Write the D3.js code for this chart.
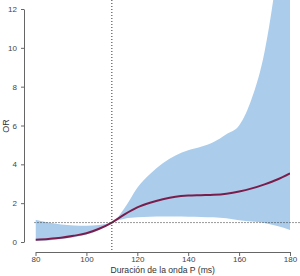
<!DOCTYPE html>
<html><head><meta charset="utf-8">
<script src="https://cdn.jsdelivr.net/npm/d3@7"></script>
<style>body{margin:0;background:#fff}svg{display:block}</style>
</head><body>
<svg id="c" width="300" height="276"></svg>
<script>
const durations = [80,85,90,95,100,105,110,115,120,125,130,135,140,145,150,155,160,165,170,175,180];
const orValues  = [0.12,0.16,0.22,0.32,0.45,0.68,1.0,1.42,1.78,2.02,2.2,2.33,2.39,2.41,2.43,2.49,2.6,2.76,2.97,3.22,3.54];
const upperCI   = [1.15,1.0,0.9,0.85,0.84,0.88,1.0,1.75,2.8,3.5,4.05,4.45,4.72,4.9,5.15,5.55,6.0,7.4,9.8,14,20];
const lowerCI   = [0.05,0.08,0.15,0.25,0.38,0.62,1.0,1.2,1.27,1.3,1.31,1.31,1.3,1.29,1.27,1.22,1.12,1.05,0.98,0.82,0.62];
const xTicks = [80,100,120,140,160,180];
const yTicks = [0,2,4,6,8,10,12];
const refX = 110, refY = 1;

const svg = d3.select("#c");
const x = d3.scaleLinear().domain([80,180]).range([35.5,290]);
const y = d3.scaleLinear().domain([0,12]).range([242,9]);
const font = "'Liberation Sans', Arial, sans-serif";

svg.append("defs").append("clipPath").attr("id","clip")
  .append("rect").attr("x",x(80)).attr("y",0).attr("width",x(180)-x(80)).attr("height",252);

const data = durations.map((d,i)=>({d, m:orValues[i], lo:lowerCI[i], hi:upperCI[i]}));
const area = d3.area().x(p=>x(p.d)).y0(p=>y(p.lo)).y1(p=>y(p.hi)).curve(d3.curveMonotoneX);
const line = d3.line().x(p=>x(p.d)).y(p=>y(p.m)).curve(d3.curveMonotoneX);

const g = svg.append("g").attr("clip-path","url(#clip)");
g.append("path").datum(data).attr("d",area).attr("fill","#abcdeb");

// reference lines
svg.append("line").attr("x1",x(80)-1).attr("x2",300).attr("y1",y(refY)).attr("y2",y(refY))
  .attr("stroke","#333").attr("stroke-width",1).attr("stroke-dasharray","1,2");
svg.append("line").attr("x1",x(refX)).attr("x2",x(refX)).attr("y1",0).attr("y2",251)
  .attr("stroke","#333").attr("stroke-width",1).attr("stroke-dasharray","1,2");

g.append("path").datum(data).attr("d",line).attr("fill","none").attr("stroke","#7b1d4c").attr("stroke-width",2);

// axes
const xa = svg.append("g").attr("transform","translate(0,252)")
  .call(d3.axisBottom(x).tickValues(xTicks).tickSize(4).tickPadding(0).tickSizeOuter(0));
const ya = svg.append("g").attr("transform","translate(24,0)")
  .call(d3.axisLeft(y).tickValues(yTicks).tickSize(3).tickPadding(4).tickSizeOuter(0));
[xa,ya].forEach(a=>{
  a.select(".domain").attr("stroke","#666");
  a.selectAll(".tick line").attr("stroke","#666");
  a.selectAll(".tick text").attr("fill","#444").attr("font-family",font).attr("font-size",8);
});

svg.append("text").attr("x",(x(80)+x(180))/2).attr("y",272.5).attr("text-anchor","middle")
  .attr("font-family",font).attr("font-size",8.6).attr("fill","#333").text("Duración de la onda P (ms)");
svg.append("text").attr("transform","translate(9,126) rotate(-90)").attr("text-anchor","middle")
  .attr("font-family",font).attr("font-size",9).attr("fill","#333").text("OR");
</script>
</body></html>
